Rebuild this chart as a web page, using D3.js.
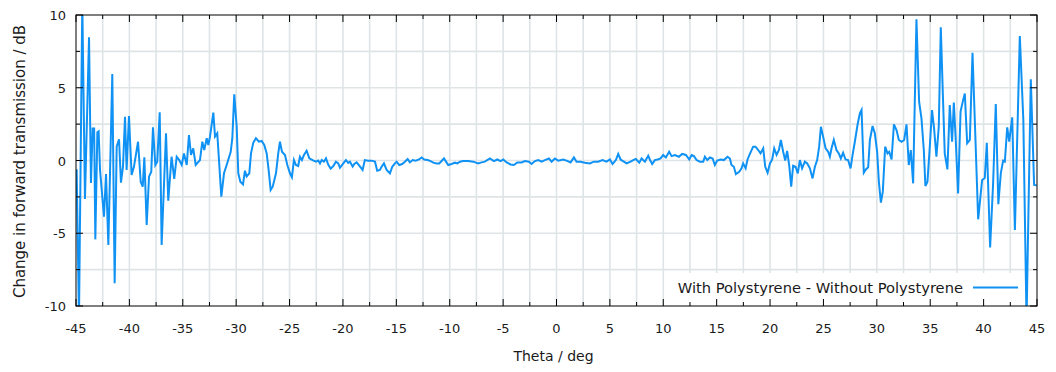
<!DOCTYPE html>
<html>
<head>
<meta charset="utf-8">
<script src="https://cdn.jsdelivr.net/npm/d3@7"></script>
<style>
  body { margin: 0; background: #fff; }
  svg { display: block; }
  text { font-family: "DejaVu Sans", Verdana, sans-serif; font-size: 13px; fill: #1a1a1a; }
  .legend-text { font-size: 14.7px; }
  .x-title { font-size: 14px; }
  .y-title { font-size: 15px; }
</style>
</head>
<body>
<svg id="chart" width="1056" height="372"></svg>
<script>
// Angle of incidence (deg)
const theta = [
  -44.94, -44.72, -44.41, -44.16, -43.78, -43.6, -43.44, -43.3, -43.19, -43.0,
  -42.88, -42.75, -42.38, -42.19, -41.97, -41.6, -41.38, -41.19, -40.97, -40.79,
  -40.6, -40.41, -40.26, -40.04, -39.79, -39.57, -39.19, -38.94, -38.75, -38.6,
  -38.38, -38.16, -37.95, -37.79, -37.57, -37.39, -37.16, -36.98, -36.57, -36.36,
  -36.05, -35.8, -35.57, -35.33, -35.1, -34.89, -34.63, -34.42, -34.23, -34.02,
  -33.79, -33.39, -33.17, -32.99, -32.76, -32.61, -32.45, -32.14, -31.98, -31.77,
  -31.39, -31.14, -30.89, -30.51, -30.36, -30.18, -29.95, -29.8, -29.61, -29.36,
  -29.18, -29.02, -28.77, -28.61, -28.4, -28.15, -27.87, -27.61, -27.37, -27.14,
  -26.96, -26.77, -26.58, -26.27, -26.06, -25.9, -25.71, -25.43, -25.21, -24.96,
  -24.78, -24.59, -24.4, -24.19, -24.03, -23.84, -23.65, -23.4, -23.15, -22.84,
  -22.53, -22.31, -22.15, -21.99, -21.78, -21.59, -21.37, -21.15, -20.9, -20.66,
  -20.44, -20.28, -19.97, -19.72, -19.5, -19.34, -19.09, -18.94, -18.72, -18.47,
  -18.16, -17.95, -17.63, -17.32, -17.0, -16.79, -16.54, -16.38, -16.16, -15.91,
  -15.6, -15.38, -15.13, -14.97, -14.73, -14.45, -14.2, -13.94, -13.73, -13.47,
  -13.19, -12.88, -12.63, -12.39, -12.07, -11.79, -11.54, -11.23, -10.98, -10.54,
  -10.14, -9.82, -9.51, -9.29, -9.04, -8.74, -8.27, -7.8, -7.33, -7.01,
  -6.71, -6.24, -5.86, -5.55, -5.23, -4.99, -4.67, -4.3, -3.99, -3.67,
  -3.27, -2.96, -2.58, -2.33, -2.02, -1.71, -1.39, -1.09, -0.71, -0.46,
  -0.15, 0.16, 0.63, 0.94, 1.32, 1.63, 1.88, 2.25, 2.66, 3.13,
  3.5, 3.9, 4.31, 4.69, 5.0, 5.25, 5.56, 5.78, 6.0, 6.31,
  6.56, 6.94, 7.18, 7.43, 7.75, 7.97, 8.28, 8.59, 8.74, 8.96,
  9.21, 9.47, 9.75, 9.99, 10.24, 10.55, 10.78, 11.09, 11.46, 11.77,
  12.12, 12.43, 12.66, 12.87, 13.12, 13.43, 13.74, 13.9, 14.12, 14.37,
  14.62, 14.83, 15.05, 15.37, 15.67, 16.02, 16.24, 16.39, 16.61, 16.8,
  17.11, 17.33, 17.48, 17.71, 17.89, 18.11, 18.42, 18.64, 18.89, 19.11,
  19.36, 19.55, 19.77, 19.99, 20.2, 20.39, 20.61, 20.83, 21.01, 21.23,
  21.42, 21.6, 21.79, 21.98, 22.16, 22.39, 22.6, 22.79, 23.0, 23.26,
  23.48, 23.73, 23.98, 24.2, 24.41, 24.6, 24.76, 24.97, 25.2, 25.44,
  25.6, 25.76, 25.97, 26.22, 26.44, 26.63, 26.84, 27.07, 27.31, 27.54,
  27.73, 27.94, 28.19, 28.41, 28.57, 28.78, 28.97, 29.19, 29.35, 29.6,
  29.81, 30.03, 30.19, 30.38, 30.56, 30.78, 31.0, 31.16, 31.38, 31.6,
  31.85, 32.06, 32.31, 32.56, 32.78, 32.99, 33.18, 33.4, 33.71, 33.96,
  34.18, 34.4, 34.55, 34.74, 34.96, 35.17, 35.36, 35.58, 35.8, 35.99,
  36.2, 36.36, 36.61, 36.83, 37.05, 37.21, 37.39, 37.61, 37.84, 38.08,
  38.24, 38.46, 38.71, 38.96, 39.49, 39.86, 40.11, 40.3, 40.61, 40.89,
  41.14, 41.38, 41.61, 41.83, 41.99, 42.21, 42.4, 42.68, 42.93, 43.39,
  43.72, 44.02, 44.42, 44.73, 44.97
];

// Change in forward transmission (dB)
const deltaDb = [
  -0.6, -10.8, 10.8, -2.65, 8.47, -1.55, 2.2, 2.2, -5.42, 1.94,
  2.0, -0.65, -3.86, -0.93, -5.81, 5.95, -8.44, 0.95, 1.46, -1.52,
  -0.42, 3.01, -0.65, 3.06, -1.0, -0.42, 1.29, -1.46, -1.8, 0.22,
  -4.43, -1.11, -0.77, 2.28, -0.31, -0.08, 3.31, -5.81, 1.87, -2.76,
  0.26, -1.27, 0.26, 0.03, -0.31, 0.49, -0.31, 1.75, 0.38, 0.84,
  -0.31, 0.03, 1.29, 0.72, 1.53, 1.07, 1.64, 3.29, 1.64, 1.87,
  -2.49, -0.88, -0.31, 0.6, 1.53, 4.55, 2.32, -0.88, -1.46, -1.64,
  -0.7, -1.1, -0.88, 0.49, 1.22, 1.53, 1.29, 1.34, 1.07, 0.49,
  -0.65, -2.03, -1.8, -0.88, 0.49, 1.29, 0.6, 0.38, -0.31, -0.88,
  -1.15, 0.03, -0.31, -0.38, 0.26, 0.03, 0.38, 0.67, 0.15, 0.03,
  -0.08, 0.0, -0.2, 0.03, -0.08, 0.15, -0.3, -0.56, -0.38, -0.08,
  -0.2, -0.5, -0.2, 0.03, -0.16, -0.08, -0.42, -0.24, -0.13, -0.36,
  -0.65, 0.03, -0.01, -0.01, -0.08, -0.7, -0.65, -0.43, -0.2, -0.65,
  -0.88, -0.43, -0.2, -0.08, -0.31, -0.24, -0.08, 0.1, -0.13, 0.03,
  -0.01, 0.07, 0.21, 0.07, 0.03, -0.04, -0.15, -0.2, -0.2, 0.14,
  -0.31, -0.24, -0.15, -0.2, -0.08, -0.04, -0.04, -0.08, -0.2, -0.13,
  -0.08, 0.14, -0.04, 0.07, -0.04, 0.07, -0.13, -0.27, -0.31, -0.13,
  -0.13, -0.04, -0.08, -0.24, -0.04, 0.03, -0.08, 0.03, 0.14, -0.08,
  0.14, -0.01, 0.07, -0.01, -0.13, 0.21, -0.08, -0.08, -0.15, -0.2,
  -0.08, -0.08, 0.03, -0.08, 0.07, -0.24, 0.03, 0.45, 0.07, -0.08,
  -0.2, -0.08, 0.03, 0.1, -0.15, 0.14, -0.08, 0.33, 0.07, -0.24,
  0.03, 0.07, 0.14, 0.38, 0.21, 0.6, 0.3, 0.38, 0.26, 0.45,
  0.38, 0.07, 0.38, 0.3, 0.03, -0.08, -0.08, 0.26, 0.03, 0.21,
  0.14, -0.31, -0.01, 0.07, 0.03, 0.26, 0.14, -0.31, -0.43, -0.93,
  -0.77, -0.54, -0.2, -0.54, 0.07, 0.45, 0.95, 0.95, 0.72, 0.49,
  0.84, -0.43, -0.84, -0.2, 0.07, 0.84, 0.38, 0.72, 1.41, 0.6,
  -0.01, 0.66, -0.31, -1.8, -0.36, -0.43, -0.88, 0.03, -0.54, -0.08,
  -0.2, -0.54, -1.23, -0.43, 0.03, 0.95, 2.32, 1.64, 0.84, 0.6,
  0.26, 0.84, 1.41, 0.72, 0.49, 0.14, 0.53, 0.07, 0.03, -0.54,
  0.38, 1.29, 2.44, 3.24, 3.47, -0.84, -0.61, -0.47, 1.41, 2.37,
  1.87, 0.6, -1.46, -2.9, -2.14, 0.95, 0.49, 0.6, 0.07, 2.48,
  2.07, 1.41, 1.29, 1.41, 2.48, -0.31, 0.72, -1.57, 9.7, 4.04,
  2.9, 0.72, -1.75, -1.46, 0.95, 3.47, 2.21, 0.26, 2.32, 9.15,
  4.15, 0.49, -0.61, 3.81, 1.29, 3.98, 1.41, -2.26, 3.36, 4.15,
  4.61, 1.18, 1.41, 7.4, -4.04, -1.34, -1.2, 1.22, -5.97, -1.57,
  3.88, -3.0, -0.88, -0.01, -0.08, 2.28, 1.29, 2.97, -4.78, 8.56,
  2.8, -11.0, 5.58, -1.68, -1.7
];

const xTickValues = [-45, -40, -35, -30, -25, -20, -15, -10, -5, 0, 5, 10, 15, 20, 25, 30, 35, 40, 45];
const yTickValues = [-10, -5, 0, 5, 10];
const seriesLabel = 'With Polystyrene - Without Polystyrene';
const xTitle = 'Theta / deg';
const yTitle = 'Change in forward transmission / dB';

const svg = d3.select('#chart');

// Plot frame
const plotLeft = 76, plotRight = 1037, plotTop = 15, plotBottom = 306;
const lineColor = '#0f92f4';
const gridColor = '#dfe4e6';

const x = d3.scaleLinear().domain([-45, 45]).range([plotLeft, plotRight]);
const y = d3.scaleLinear().domain([-10, 10]).range([plotBottom, plotTop]);

// minor grid every 2.5 units
const xGrid = d3.range(-42.5, 45, 2.5);
const yGrid = d3.range(-7.5, 10, 2.5);

const grid = svg.append('g');
grid.selectAll('line.vx')
    .data(xGrid)
    .join('line')
    .attr('x1', d => x(d)).attr('x2', d => x(d))
    .attr('y1', plotTop).attr('y2', plotBottom)
    .attr('stroke', gridColor)
    .attr('stroke-width', 1.6);
grid.selectAll('line.hy')
    .data(yGrid)
    .join('line')
    .attr('x1', plotLeft).attr('x2', plotRight)
    .attr('y1', d => y(d)).attr('y2', d => y(d))
    .attr('stroke', gridColor)
    .attr('stroke-width', 1.6);

// Legend background (opaque key box)
svg.append('rect')
    .attr('x', 668).attr('y', 273)
    .attr('width', 357).attr('height', 32)
    .attr('fill', '#fff');

// Clip the curve to the plot area
svg.append('clipPath').attr('id', 'plot-clip')
    .append('rect')
    .attr('x', plotLeft).attr('y', plotTop)
    .attr('width', plotRight - plotLeft).attr('height', plotBottom - plotTop);

const points = theta.map((t, i) => [t, deltaDb[i]]);
const line = d3.line().x(d => x(d[0])).y(d => y(d[1]));

svg.append('path')
    .datum(points)
    .attr('d', line)
    .attr('clip-path', 'url(#plot-clip)')
    .attr('fill', 'none')
    .attr('stroke', lineColor)
    .attr('stroke-width', 2)
    .attr('stroke-linejoin', 'miter');

// Border
svg.append('rect')
    .attr('x', plotLeft).attr('y', plotTop)
    .attr('width', plotRight - plotLeft).attr('height', plotBottom - plotTop)
    .attr('fill', 'none')
    .attr('stroke', '#000')
    .attr('stroke-width', 1);

// Ticks (inward, mirrored) - major 7px, minor 4px
const ticks = svg.append('g').attr('stroke', '#000').attr('stroke-width', 1);
const xMinor = d3.range(-42.5, 45, 5);
const yMinor = d3.range(-7.5, 10, 5);

xTickValues.forEach(v => {
    ticks.append('line').attr('x1', x(v)).attr('x2', x(v)).attr('y1', plotBottom).attr('y2', plotBottom - 7);
    ticks.append('line').attr('x1', x(v)).attr('x2', x(v)).attr('y1', plotTop).attr('y2', plotTop + 7);
});
xMinor.forEach(v => {
    ticks.append('line').attr('x1', x(v)).attr('x2', x(v)).attr('y1', plotBottom).attr('y2', plotBottom - 4);
    ticks.append('line').attr('x1', x(v)).attr('x2', x(v)).attr('y1', plotTop).attr('y2', plotTop + 4);
});
yTickValues.forEach(v => {
    ticks.append('line').attr('x1', plotLeft).attr('x2', plotLeft + 7).attr('y1', y(v)).attr('y2', y(v));
    ticks.append('line').attr('x1', plotRight).attr('x2', plotRight - 7).attr('y1', y(v)).attr('y2', y(v));
});
yMinor.forEach(v => {
    ticks.append('line').attr('x1', plotLeft).attr('x2', plotLeft + 4).attr('y1', y(v)).attr('y2', y(v));
    ticks.append('line').attr('x1', plotRight).attr('x2', plotRight - 4).attr('y1', y(v)).attr('y2', y(v));
});

// Tick labels
svg.append('g').selectAll('text')
    .data(xTickValues)
    .join('text')
    .attr('x', d => x(d))
    .attr('y', 333)
    .attr('text-anchor', 'middle')
    .text(d => d);

svg.append('g').selectAll('text')
    .data(yTickValues)
    .join('text')
    .attr('x', 66)
    .attr('y', d => y(d) + 5)
    .attr('text-anchor', 'end')
    .text(d => d);

// Axis titles
svg.append('text')
    .attr('class', 'x-title')
    .attr('x', (plotLeft + plotRight) / 2 - 3)
    .attr('y', 361)
    .attr('text-anchor', 'middle')
    .text(xTitle);

svg.append('text')
    .attr('class', 'y-title')
    .attr('transform', `translate(25, ${(plotTop + plotBottom) / 2 + 1}) rotate(-90)`)
    .attr('text-anchor', 'middle')
    .text(yTitle);

// Legend
svg.append('text')
    .attr('class', 'legend-text')
    .attr('x', 963)
    .attr('y', 293)
    .attr('text-anchor', 'end')
    .text(seriesLabel);

svg.append('line')
    .attr('x1', 973).attr('x2', 1018)
    .attr('y1', 287.5).attr('y2', 287.5)
    .attr('stroke', lineColor)
    .attr('stroke-width', 2);
</script>
</body>
</html>
